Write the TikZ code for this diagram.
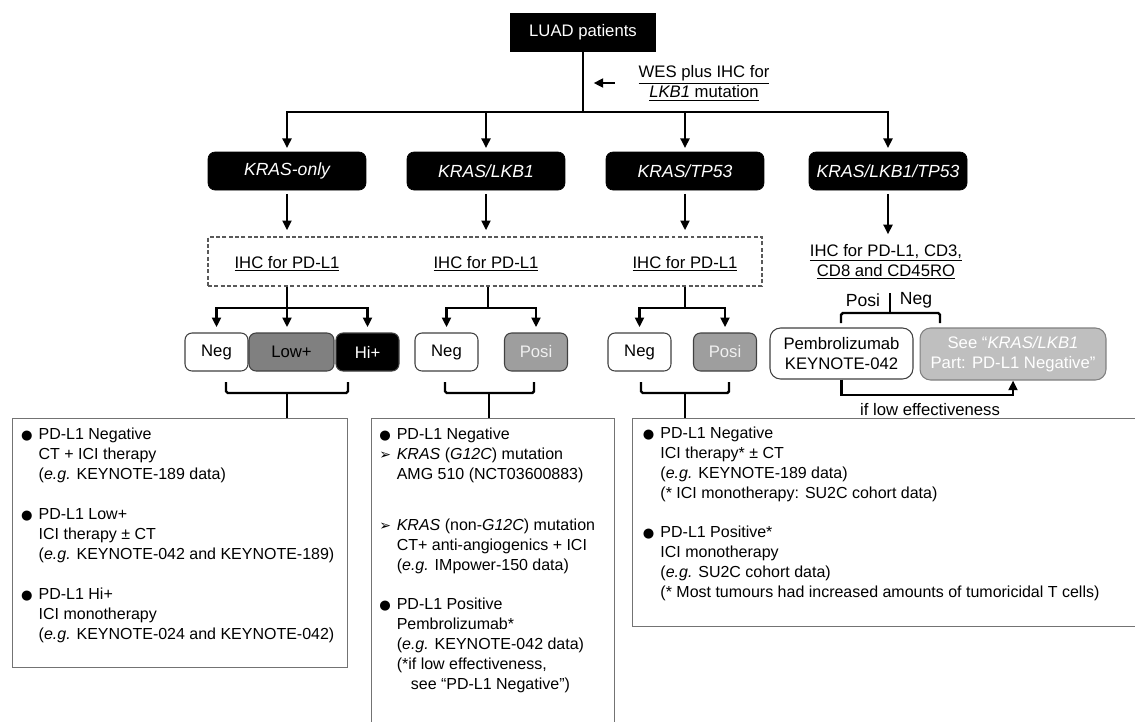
\documentclass[tikz,border=0pt]{standalone}
\usepackage{fontspec}
\setmainfont{Liberation Sans}
\newfontfamily\bulletfont{DejaVu Sans}
\usetikzlibrary{arrows.meta, positioning}
\tikzset{>={Triangle[length=5.5pt,width=5pt]},
  flow/.style={line width=1.4pt},
  gene/.style={draw, fill=black, text=white, rounded corners=4pt,
    minimum width=3.16cm, minimum height=0.76cm, font=\itshape},
  res/.style={draw=black!75, line width=0.6pt, rounded corners=4pt,
    minimum height=0.76cm, minimum width=1.26cm, inner sep=1pt},
  dashbox/.style={draw=black!65, line width=0.7pt, dash pattern=on 2.2pt off 1.4pt},
  listbox/.style={draw=black!55, line width=0.8pt, anchor=north west, inner sep=0pt},
  listtext/.style={inner sep=0pt, anchor=north west, font=\fontsize{9.1}{11.4}\selectfont}
}
\newcommand{\dotitem}{\makebox[10pt][l]{\bulletfont\fontsize{7.5}{8}\selectfont ●}}
\newcommand{\arritem}{\makebox[10pt][l]{\bulletfont\fontsize{8}{8}\selectfont ➢}}

\begin{document}
\begin{tikzpicture}[x=0.02cm, y=-0.02cm, font=\fontsize{9.5}{11.4}\selectfont]
  \useasboundingbox (0,0) rectangle (1135,721);
  \clip (0,0) rectangle (1135,721);

  % top of the tree
  \node[draw, fill=black, text=white, minimum width=2.9cm, minimum height=0.76cm] (luad) at (583,32) {LUAD patients};
  \node[align=center] (wes) at (704,83) {\underline{WES plus IHC for}\\\underline{\textit{LKB1} mutation}};

  \node[gene] (only)   at (287,171) {KRAS-only};
  \node[gene] (lkb)    at (486,171) {KRAS/LKB1};
  \node[gene] (tp)     at (685,171) {KRAS/TP53};
  \node[gene] (triple) at (888,171) {KRAS/LKB1/TP53};

  \coordinate (split) at (583,112);
  \draw[flow] (luad) -- (split);
  \draw[flow,->,shorten <=10pt,shorten >=6pt] (wes.west) -- (wes.west -| split);
  \foreach \g in {only,lkb,tp,triple}
    \draw[flow,->,shorten >=2pt] (split) -| (\g);

  % IHC tests
  \node[dashbox, minimum width=11.08cm, minimum height=0.98cm] (dash) at (485,261.5) {};
  \node (ihc1) at (287,264) {\underline{IHC for PD-L1}};
  \node (ihc2) at (486,264) {\underline{IHC for PD-L1}};
  \node (ihc3) at (685,264) {\underline{IHC for PD-L1}};
  \node[align=center] (ihc4) at (886,262) {\underline{IHC for PD-L1, CD3,}\\\underline{CD8 and CD45RO}};

  \foreach \g in {only,lkb,tp}
    \draw[flow,->,shorten <=2pt,shorten >=3.5pt] (\g) -- (\g |- dash.north);
  \draw[flow,->,shorten <=2pt,shorten >=2pt] (triple) -- (triple |- ihc4.north);

  % PD-L1 results
  \node[res, fill=white]                                (neg1) at (216.5,352) {Neg};
  \node[res, fill=black!50, minimum width=1.7cm]        (low1) at (291.5,352) {Low+};
  \node[res, fill=black, text=white]                    (hi1)  at (367.5,352) {Hi+};
  \node[res, fill=white]                                (neg2) at (446.5,352) {Neg};
  \node[res, fill=black!38, text=black!6]               (pos2) at (536,352)   {Posi};
  \node[res, fill=white]                                (neg3) at (639.5,352) {Neg};
  \node[res, fill=black!38, text=black!6]               (pos3) at (725,352)   {Posi};

  \coordinate (b1) at (287,308);
  \coordinate (b2) at (488,308);
  \coordinate (b3) at (685,308);
  \foreach \b in {b1,b2,b3}
    \draw[flow] (\b |- dash.south) -- (\b);
  \draw[flow,->,shorten >=3pt] (b1) -| (neg1);
  \draw[flow,->,shorten >=3pt] (b1) -- (b1 |- low1.north);
  \draw[flow,->,shorten >=3pt] (b1) -| (hi1);
  \draw[flow,->,shorten >=3pt] (b2) -| (neg2);
  \draw[flow,->,shorten >=3pt] (b2) -| (pos2);
  \draw[flow,->,shorten >=3pt] (b3) -| (neg3);
  \draw[flow,->,shorten >=3pt] (b3) -| (pos3);

  % KRAS/LKB1/TP53 branch
  \node[res, fill=white, align=center, minimum width=2.86cm, minimum height=1.02cm, rounded corners=6pt] (pembro) at (841.5,353.5) {Pembrolizumab\\KEYNOTE-042};
  \node[res, draw=black!50, fill=black!25, text=white, align=center, minimum width=3.72cm, minimum height=1.04cm, rounded corners=6pt] (see) at (1013,354) {See \textquotedblleft\textit{KRAS/LKB1}\\Part: PD-L1 Negative\textquotedblright};

  \coordinate (pn) at (890,313);
  \coordinate (pl) at (841,323);
  \coordinate (pr) at (940,323);
  \draw[flow,shorten <=4pt] (pn |- ihc4.south) -- (pn);
  \draw[flow,rounded corners=1pt] (pl) |- (pn) -| (pr);
  \node (posi) at (863,300) {\fontsize{10}{12}\selectfont Posi};
  \node (negl) at (916,300) {\fontsize{10}{12}\selectfont Neg};

  \coordinate (lowc) at (930,395);
  \draw[flow,->] (pembro.south) |- (lowc) -| (see.south);
  \node[below=1pt of lowc] (lowtxt) {if low effectiveness};

  % therapy lists
  \node[listbox, minimum width=6.7cm,  minimum height=4.98cm] (list1) at (12,418) {};
  \node[listbox, minimum width=4.86cm, minimum height=6.6cm]  (list2) at (371,418) {};
  \node[listbox, minimum width=10.5cm, minimum height=4.16cm] (list3) at (632,418) {};

  \coordinate (k1) at (287,393);
  \coordinate (k2) at (489,393);
  \coordinate (k3) at (685,393);
  \draw[flow,rounded corners=1pt] (226,382) |- (k1) -| (348,382);
  \draw[flow,rounded corners=1pt] (445,382) |- (k2) -| (534,382);
  \draw[flow,rounded corners=1pt] (641,382) |- (k3) -| (729,382);
  \foreach \n in {1,2,3}
    \draw[flow] (k\n) -- (k\n |- list\n.north);

  \node[listtext, below right=4pt and 5pt of list1.north west] (txt1) {%
    \begin{tabular}{@{}l@{}l@{}}
      \dotitem & PD-L1 Negative\\
               & CT + ICI therapy\\
               & (\textit{e.g.} KEYNOTE-189 data)\\[11.4pt]
      \dotitem & PD-L1 Low+\\
               & ICI therapy ± CT\\
               & (\textit{e.g.} KEYNOTE-042 and KEYNOTE-189)\\[11.4pt]
      \dotitem & PD-L1 Hi+\\
               & ICI monotherapy\\
               & (\textit{e.g.} KEYNOTE-024 and KEYNOTE-042)
    \end{tabular}};

  \node[listtext, below right=4pt and 4.5pt of list2.north west] (txt2) {%
    \begin{tabular}{@{}l@{}l@{}}
      \dotitem & PD-L1 Negative\\
      \arritem & \textit{KRAS} (\textit{G12C}) mutation\\
               & AMG 510 (NCT03600883)\\[17.6pt]
      \arritem & \textit{KRAS} (non-\textit{G12C}) mutation\\
               & CT+ anti-angiogenics + ICI\\
               & (\textit{e.g.} IMpower-150 data)\\[10.8pt]
      \dotitem & PD-L1 Positive\\
               & Pembrolizumab*\\
               & (\textit{e.g.} KEYNOTE-042 data)\\
               & (*if low effectiveness,\\
               & \hspace*{8pt}see \textquotedblleft PD-L1 Negative\textquotedblright)
    \end{tabular}};

  \node[listtext, below right=3.5pt and 6pt of list3.north west] (txt3) {%
    \begin{tabular}{@{}l@{}l@{}}
      \dotitem & PD-L1 Negative\\
               & ICI therapy* ± CT\\
               & (\textit{e.g.} KEYNOTE-189 data)\\
               & (* ICI monotherapy: SU2C cohort data)\\[10.8pt]
      \dotitem & PD-L1 Positive*\\
               & ICI monotherapy\\
               & (\textit{e.g.} SU2C cohort data)\\
               & (* Most tumours had increased amounts of tumoricidal T cells)
    \end{tabular}};
\end{tikzpicture}
\end{document}
